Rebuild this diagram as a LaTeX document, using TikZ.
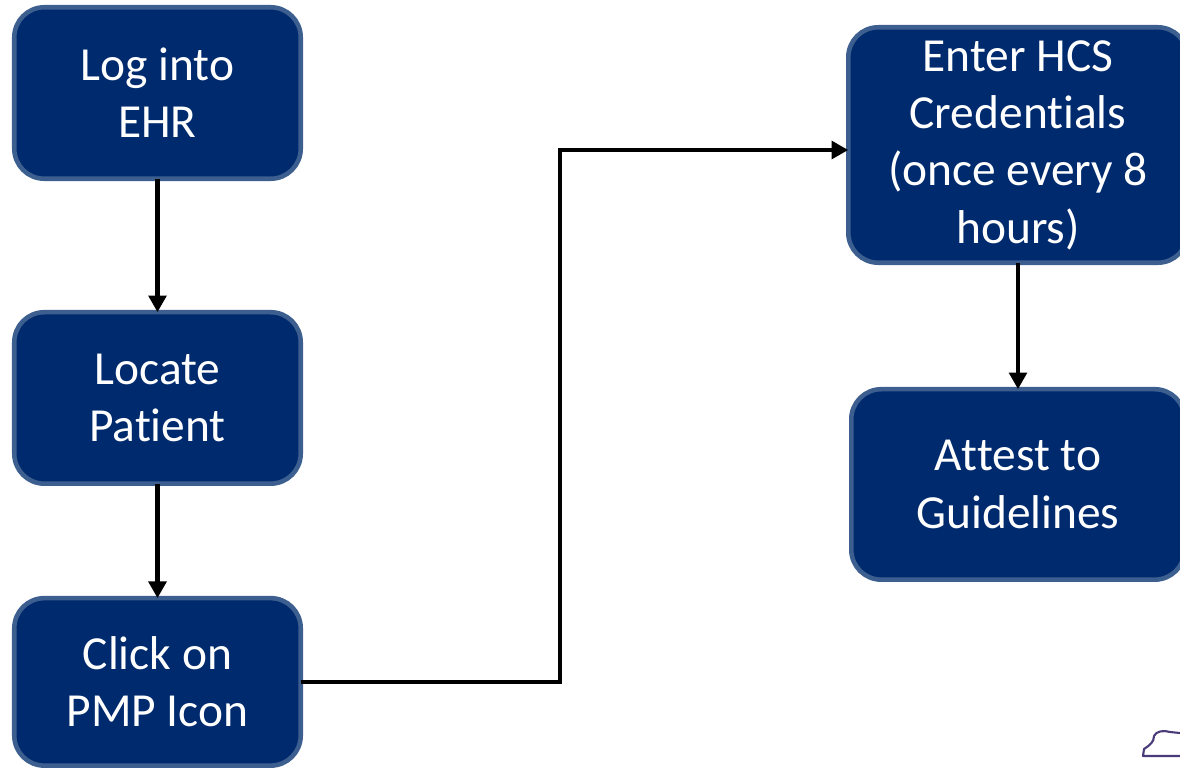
\documentclass[tikz,border=0pt]{standalone}
\usepackage{fontspec}
\setmainfont{Carlito}
\usetikzlibrary{positioning,arrows.meta}
\definecolor{boxfill}{HTML}{002A6E}
\definecolor{boxline}{HTML}{3C5F8F}
\definecolor{markline}{HTML}{4B3A7A}
\newcommand{\nolig}{\kern0pt}
\begin{document}
\begin{tikzpicture}[x=0.02cm,y=-0.02cm,
			step box/.style={draw=boxline,fill=boxfill,line width=2.6pt,rounded corners=0.6cm,
				text=white,align=center,font=\fontsize{27}{32.6}\selectfont,outer sep=0pt,
				minimum width=5.73cm,minimum height=3.43cm,inner sep=0pt},
			wide box/.style={step box,minimum width=6.79cm},
			flow/.style={-{Triangle[width=10pt,length=9.5pt]},line width=2.6pt,black}]
			\useasboundingbox (0,0) rectangle (1180,768);
			\node[step box] (ehr) at (157.5,93) {Log into\\EHR};
			\node[step box] (patient) [below=2.67cm of ehr] {Locate\\Pat\nolig ient};
			\node[step box,minimum height=3.35cm] (pmp) [below=2.29cm of patient] {Click on\\PMP Icon};
			\node[wide box,minimum height=4.71cm] (hcs) at (1018,145) {Enter HCS\\Credent\nolig ials\\(once every 8\\hours)};
			\node[wide box,minimum width=6.67cm,minimum height=3.81cm] (attest) [below=2.53cm of hcs] {At\nolig test to\\Guidelines};
			\coordinate (turn) at (560,150);
			\draw[flow] (ehr) -- (patient);
			\draw[flow] (patient) -- (pmp);
			\draw[flow] (pmp.east) -| (turn) -- (turn -| hcs.west);
			\draw[flow] (hcs) -- (attest);
			% clipped mark at the corner
			\draw[markline,line width=1.2pt,line join=round]
				(1180,756) -- (1143,756) -- (1144,749) .. controls (1150,745) and (1154,742) .. (1154,736)
				.. controls (1156,731) and (1164,730) .. (1170,732) -- (1180,733);
		\end{tikzpicture}
\end{document}
